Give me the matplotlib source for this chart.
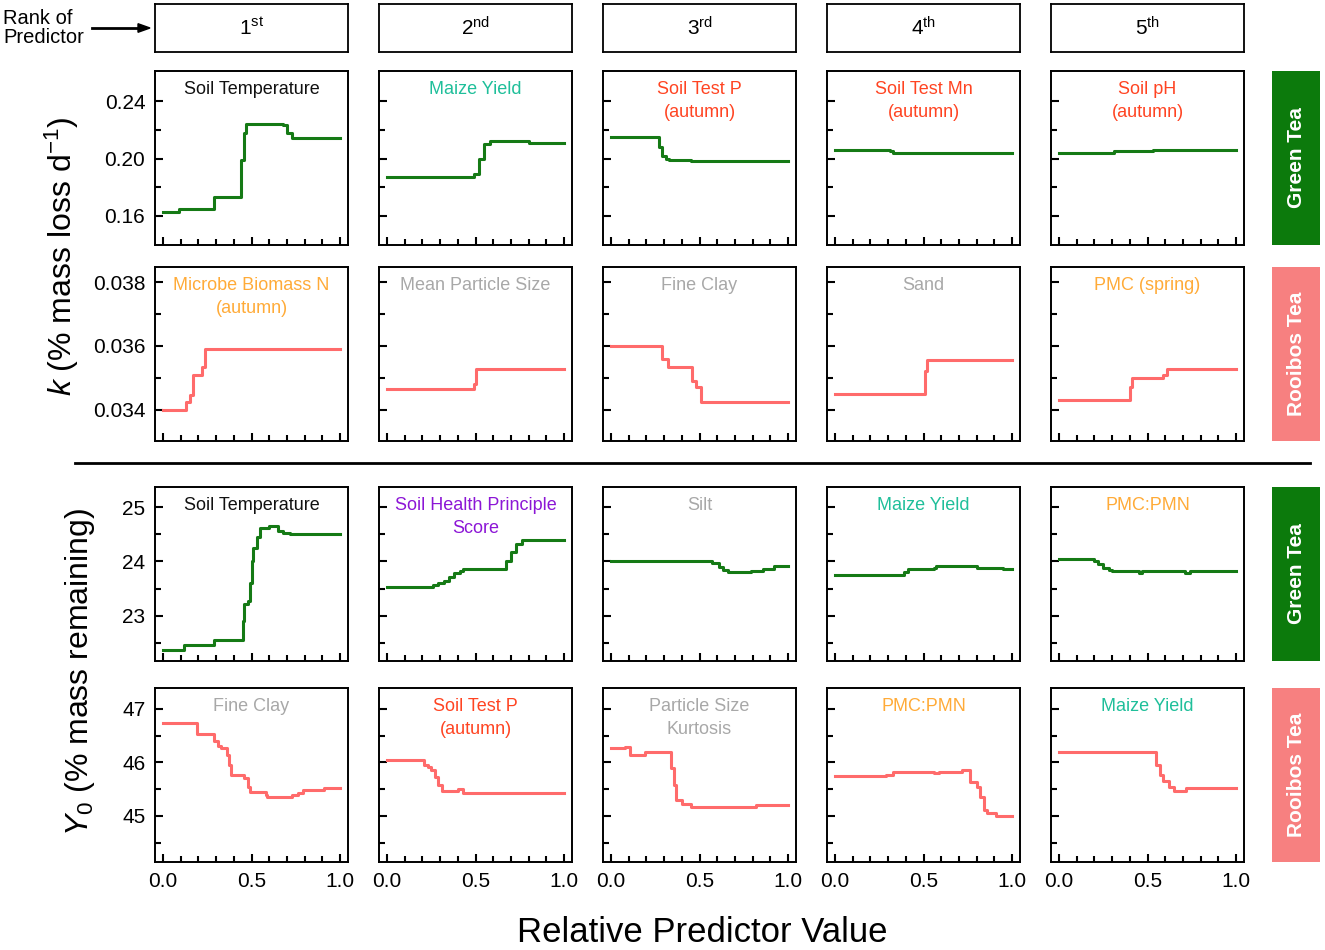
import numpy as np
import matplotlib
matplotlib.use("Agg")
import matplotlib.pyplot as plt
from matplotlib.patches import FancyArrow
from matplotlib.lines import Line2D

plt.rcParams['font.family'] = ['Liberation Sans', 'DejaVu Sans']
plt.rcParams['mathtext.fontset'] = 'custom'
plt.rcParams['mathtext.rm'] = 'Liberation Sans'
plt.rcParams['mathtext.it'] = 'Liberation Sans:italic'

# colours
GREEN = '#157a15'
PINK = '#ff6b6b'
BOX_GREEN = '#0c7a0c'
BOX_PINK = '#f78080'
C_BLACK = '#111111'
C_TEAL = '#1fbf9a'
C_RED = '#ff4422'
C_GRAY = '#a8a8a8'
C_ORANGE = '#ffab38'
C_PURPLE = '#8c16d6'

ranks = ['1$^{\\mathregular{st}}$', '2$^{\\mathregular{nd}}$', '3$^{\\mathregular{rd}}$',
         '4$^{\\mathregular{th}}$', '5$^{\\mathregular{th}}$']

# ---- row 1 : green tea, k ----
gk_names = ['Soil Temperature', 'Maize Yield', 'Soil Test P\n(autumn)', 'Soil Test Mn\n(autumn)', 'Soil pH\n(autumn)']
gk_colors = [C_BLACK, C_TEAL, C_RED, C_RED, C_RED]
gk_x = [
    [0, 0.09, 0.29, 0.44, 0.455, 0.47, 0.68, 0.70, 0.73, 1.0],
    [0, 0.49, 0.52, 0.55, 0.58, 0.80, 1.0],
    [0, 0.27, 0.29, 0.31, 0.33, 0.45, 1.0],
    [0, 0.31, 0.33, 1.0],
    [0, 0.31, 0.53, 1.0],
]
gk_y = [
    [0.163, 0.165, 0.173, 0.199, 0.218, 0.224, 0.223, 0.218, 0.214, 0.214],
    [0.187, 0.189, 0.200, 0.210, 0.212, 0.211, 0.211],
    [0.215, 0.208, 0.202, 0.200, 0.199, 0.198, 0.198],
    [0.2062, 0.205, 0.2037, 0.2037],
    [0.2037, 0.2049, 0.2062, 0.2062],
]

# ---- row 2 : rooibos tea, k ----
rk_names = ['Microbe Biomass N\n(autumn)', 'Mean Particle Size', 'Fine Clay', 'Sand', 'PMC (spring)']
rk_colors = [C_ORANGE, C_GRAY, C_GRAY, C_GRAY, C_ORANGE]
rk_x = [
    [0, 0.13, 0.15, 0.17, 0.22, 0.235, 1.0],
    [0, 0.49, 0.50, 1.0],
    [0, 0.29, 0.32, 0.46, 0.48, 0.51, 1.0],
    [0, 0.51, 0.52, 1.0],
    [0, 0.40, 0.41, 0.59, 0.61, 1.0],
]
rk_y = [
    [0.0340, 0.03425, 0.03446, 0.0351, 0.03535, 0.0359, 0.0359],
    [0.03465, 0.0348, 0.03526, 0.03526],
    [0.0360, 0.0356, 0.03533, 0.0349, 0.03472, 0.03425, 0.03425],
    [0.0345, 0.0352, 0.03556, 0.03556],
    [0.0343, 0.0347, 0.0350, 0.0351, 0.03527, 0.03527],
]

# ---- row 3 : green tea, Y0 ----
gy_names = ['Soil Temperature', 'Soil Health Principle\nScore', 'Silt', 'Maize Yield', 'PMC:PMN']
gy_colors = [C_BLACK, C_PURPLE, C_GRAY, C_TEAL, C_ORANGE]
gy_x = [
    [0, 0.12, 0.29, 0.45, 0.46, 0.48, 0.49, 0.50, 0.51, 0.53, 0.55, 0.60, 0.65, 0.68, 0.72, 1.0],
    [0, 0.26, 0.29, 0.32, 0.35, 0.38, 0.41, 0.43, 0.67, 0.70, 0.73, 0.76, 1.0],
    [0, 0.57, 0.61, 0.63, 0.66, 0.79, 0.86, 0.92, 1.0],
    [0, 0.39, 0.41, 0.56, 0.57, 0.80, 0.95, 1.0],
    [0, 0.20, 0.22, 0.25, 0.28, 0.30, 0.45, 0.47, 0.71, 0.74, 1.0],
]
gy_y = [
    [22.37, 22.47, 22.55, 22.9, 23.21, 23.27, 23.6, 24.0, 24.25, 24.45, 24.62, 24.66, 24.56, 24.52, 24.50, 24.50],
    [23.53, 23.56, 23.60, 23.65, 23.72, 23.78, 23.83, 23.86, 24.0, 24.18, 24.32, 24.39, 24.39],
    [24.0, 23.97, 23.90, 23.84, 23.80, 23.83, 23.86, 23.91, 23.91],
    [23.76, 23.80, 23.86, 23.88, 23.91, 23.88, 23.86, 23.86],
    [24.04, 24.0, 23.95, 23.88, 23.84, 23.82, 23.79, 23.82, 23.79, 23.82, 23.82],
]

# ---- row 4 : rooibos tea, Y0 ----
ry_names = ['Fine Clay', 'Soil Test P\n(autumn)', 'Particle Size\nKurtosis', 'PMC:PMN', 'Maize Yield']
ry_colors = [C_GRAY, C_RED, C_GRAY, C_ORANGE, C_TEAL]
ry_x = [
    [0, 0.19, 0.29, 0.31, 0.33, 0.36, 0.375, 0.385, 0.46, 0.48, 0.49, 0.58, 0.59, 0.73, 0.76, 0.79, 0.91, 1.0],
    [0, 0.21, 0.23, 0.25, 0.27, 0.29, 0.31, 0.40, 0.43, 1.0],
    [0, 0.08, 0.11, 0.19, 0.34, 0.355, 0.37, 0.40, 0.45, 0.82, 1.0],
    [0, 0.29, 0.33, 0.56, 0.59, 0.72, 0.76, 0.80, 0.82, 0.84, 0.86, 0.91, 1.0],
    [0, 0.55, 0.57, 0.59, 0.62, 0.65, 0.72, 1.0],
]
ry_y = [
    [46.74, 46.53, 46.40, 46.30, 46.26, 46.13, 45.95, 45.77, 45.70, 45.55, 45.45, 45.40, 45.35, 45.39, 45.43, 45.48, 45.52, 45.52],
    [46.05, 45.95, 45.92, 45.85, 45.72, 45.58, 45.47, 45.50, 45.43, 45.43],
    [46.26, 46.29, 46.13, 46.19, 45.90, 45.57, 45.30, 45.22, 45.16, 45.21, 45.21],
    [45.74, 45.77, 45.83, 45.80, 45.83, 45.86, 45.64, 45.55, 45.35, 45.12, 45.06, 45.00, 45.00],
    [46.20, 45.95, 45.76, 45.66, 45.54, 45.46, 45.52, 45.52],
]

rows = [
    dict(names=gk_names, colors=gk_colors, xs=gk_x, ys=gk_y, line=GREEN, ylim=(0.1398, 0.2609),
         major=[0.16, 0.20, 0.24], minor=[0.18, 0.22], fmt='{:.2f}', side='Green Tea', box=BOX_GREEN),
    dict(names=rk_names, colors=rk_colors, xs=rk_x, ys=rk_y, line=PINK, ylim=(0.03302, 0.03847),
         major=[0.034, 0.036, 0.038], minor=[0.035, 0.037], fmt='{:.3f}', side='Rooibos Tea', box=BOX_PINK),
    dict(names=gy_names, colors=gy_colors, xs=gy_x, ys=gy_y, line=GREEN, ylim=(22.17, 25.37),
         major=[23, 24, 25], minor=[22.5, 23.5, 24.5], fmt='{:.0f}', side='Green Tea', box=BOX_GREEN),
    dict(names=ry_names, colors=ry_colors, xs=ry_x, ys=ry_y, line=PINK, ylim=(44.14, 47.39),
         major=[45, 46, 47], minor=[44.5, 45.5, 46.5], fmt='{:.0f}', side='Rooibos Tea', box=BOX_PINK),
]

W, H = 1325, 950
fig = plt.figure(figsize=(W / 100, H / 100), dpi=100)


def frac(x0, y0, x1, y1):
    # pixel box (top-left origin) -> figure fraction rect
    return [x0 / W, 1 - y1 / H, (x1 - x0) / W, (y1 - y0) / H]


col_left = [155, 379, 603, 827, 1051]
col_w = 193
row_top = [71, 267, 487, 688]
row_h = 174

# header boxes
for c in range(5):
    hx = fig.add_axes(frac(col_left[c], 4, col_left[c] + col_w, 52))
    hx.set_xticks([])
    hx.set_yticks([])
    for s in hx.spines.values():
        s.set_linewidth(1.3)
    hx.text(0.5, 0.5, ranks[c], ha='center', va='center', fontsize=15, transform=hx.transAxes)

fig.text(3 / W, 1 - 28 / H, 'Rank of\nPredictor', ha='left', va='center', fontsize=14.5, linespacing=1.05)
fig.add_artist(Line2D([92 / W, 140 / W], [1 - 28 / H, 1 - 28 / H], color='black', lw=2))
fig.add_artist(FancyArrow(138 / W, 1 - 28 / H, 12 / W, 0, width=0.0,
                          head_width=0.009, head_length=12 / W,
                          color='black', length_includes_head=True))

for r, row in enumerate(rows):
    top = row_top[r]
    for c in range(5):
        ax = fig.add_axes(frac(col_left[c], top, col_left[c] + col_w, top + row_h))
        ax.plot(row['xs'][c], row['ys'][c], drawstyle='steps-post', color=row['line'], lw=2.2)
        ax.set_xlim(-0.045, 1.045)
        ax.set_ylim(*row['ylim'])
        ax.set_xticks([0, 0.5, 1.0])
        ax.set_xticks(np.arange(0.1, 1.0, 0.1), minor=True)
        ax.set_yticks(row['major'])
        ax.set_yticks(row['minor'], minor=True)
        ax.tick_params(which='both', direction='in', top=False, right=False, width=1.5, labelsize=15, pad=7)
        ax.tick_params(which='major', length=6)
        ax.tick_params(which='minor', length=4)
        for s in ax.spines.values():
            s.set_linewidth(1.4)
        if c == 0:
            ax.set_yticklabels([row['fmt'].format(v) for v in row['major']])
        else:
            ax.set_yticklabels([])
        if r == 3:
            ax.set_xticklabels(['0.0', '0.5', '1.0'])
        else:
            ax.set_xticklabels([])
        ax.text(0.5, 0.945, row['names'][c], ha='center', va='top', fontsize=13,
                color=row['colors'][c], transform=ax.transAxes, linespacing=1.5)
    # side box
    sx = fig.add_axes(frac(1272, top, 1320, top + row_h))
    sx.set_xticks([])
    sx.set_yticks([])
    sx.set_facecolor(row['box'])
    for s in sx.spines.values():
        s.set_visible(False)
    sx.text(0.5, 0.5, row['side'], rotation=90, ha='center', va='center', color='white',
            fontsize=15, fontweight='bold', transform=sx.transAxes)

# separator
fig.add_artist(Line2D([75 / W, 1310 / W], [1 - 463 / H, 1 - 463 / H], color='black', lw=2))

fig.text(62 / W, 1 - 256 / H, '$\\mathit{k}$ (% mass loss d$^{\\mathregular{-1}}$)', rotation=90,
         ha='center', va='center', fontsize=23)
fig.text(80 / W, 1 - 672 / H, '$\\mathit{Y}_{\\mathregular{0}}$ (% mass remaining)', rotation=90,
         ha='center', va='center', fontsize=23)
fig.text(702 / W, 1 - 933 / H, 'Relative Predictor Value', ha='center', va='center', fontsize=25)

fig.savefig('out.png', dpi=100)
